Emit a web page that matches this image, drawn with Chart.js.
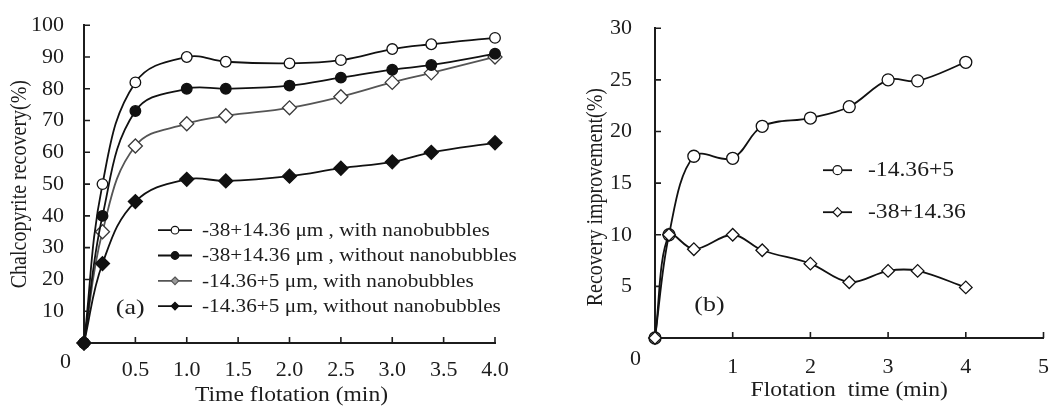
<!DOCTYPE html>
<html>
<head>
<meta charset="utf-8">
<script src="https://cdn.jsdelivr.net/npm/chart.js@4.4.1/dist/chart.umd.min.js"></script>
<style>
  html, body { margin: 0; padding: 0; background: #fff; }
  #wrap { position: relative; width: 1057px; height: 408px; }
  canvas { position: absolute; top: 0; }
  #chartA { left: 0; }
  #chartB { left: 540px; }
</style>
</head>
<body>
<div id="wrap">
  <canvas id="chartA" width="540" height="408"></canvas>
  <canvas id="chartB" width="517" height="408"></canvas>
</div>
<script>
// (a) chalcopyrite recovery against flotation time
const timesA = [0, 0.18, 0.5, 1.0, 1.38, 2.0, 2.5, 3.0, 3.38, 4.0];
const coarseWithNB = [0, 50, 82, 90, 88.5, 88, 89, 92.5, 94, 96];
const coarseWithoutNB = [0, 40, 73, 80, 80, 81, 83.5, 86, 87.5, 91];
const fineWithNB = [0, 35, 62, 69, 71.5, 74, 77.5, 82, 85, 90];
const fineWithoutNB = [0, 25, 44.5, 51.5, 51, 52.5, 55, 57, 60, 63];
const namesA = [
  '-38+14.36 \u03bcm , with nanobubbles',
  '-38+14.36 \u03bcm , without nanobubbles',
  '-14.36+5 \u03bcm, with nanobubbles',
  '-14.36+5 \u03bcm, without nanobubbles'
];

// (b) recovery improvement from nanobubbles
const timesB = [0, 0.18, 0.5, 1.0, 1.38, 2.0, 2.5, 3.0, 3.38, 4.0];
const improveFine = [0, 10, 17.6, 17.4, 20.5, 21.3, 22.4, 25, 24.9, 26.7];
const improveCoarse = [0, 10, 8.6, 10, 8.5, 7.2, 5.4, 6.5, 6.5, 4.9];
const namesB = ['-14.36+5', '-38+14.36'];

const serif = "'Liberation Serif', 'DejaVu Serif', serif";
const ink = '#1c1c1c';
const widen = 1.18; // glyphs are set a little wide

const toPoints = (xs, ys) => xs.map((x, i) => ({x: x, y: ys[i]}));

function drawMarker(ctx, style, x, y, r) {
  ctx.beginPath();
  if (style === 'rectRot') {
    ctx.moveTo(x, y - r); ctx.lineTo(x + r, y); ctx.lineTo(x, y + r); ctx.lineTo(x - r, y);
    ctx.closePath();
  } else {
    ctx.arc(x, y, r, 0, Math.PI * 2);
  }
  ctx.fill();
  ctx.stroke();
}

// fillText widened along the page's x direction, optionally rotated
function wideText(ctx, text, x, y, align, rotate) {
  ctx.save();
  ctx.translate(x, y);
  if (rotate) {
    ctx.rotate(-Math.PI / 2);
    ctx.scale(1, widen);
  } else {
    ctx.scale(widen, 1);
  }
  ctx.textAlign = align;
  ctx.textBaseline = 'middle';
  ctx.fillText(text, 0, 0);
  ctx.restore();
}

// ticks pointing into the plot, the corner "0" and the axis titles
const axisDecor = {
  id: 'axisDecor',
  afterDraw(chart, args, opts) {
    const {ctx, chartArea} = chart;
    const x = chart.scales.x, y = chart.scales.y;
    ctx.save();
    ctx.strokeStyle = ink;
    ctx.lineWidth = 1.6;
    ctx.beginPath();
    x.ticks.forEach(t => {
      if (t.value === 0) return;
      const px = x.getPixelForValue(t.value);
      ctx.moveTo(px, x.top); ctx.lineTo(px, x.top - opts.length);
    });
    y.ticks.forEach(t => {
      if (t.value === 0) return;
      const py = y.getPixelForValue(t.value);
      ctx.moveTo(y.right, py); ctx.lineTo(y.right + opts.length, py);
    });
    ctx.stroke();
    ctx.fillStyle = ink;
    ctx.font = opts.tickFont;
    ctx.textAlign = 'right';
    ctx.textBaseline = 'middle';
    ctx.fillText('0', y.right - opts.zeroDx, x.top + opts.zeroDy);

    ctx.font = opts.titleFont;
    wideText(ctx, opts.xTitle, (chartArea.left + chartArea.right) / 2 + opts.xTitleDx, opts.xTitleY, 'center', false);
    wideText(ctx, opts.yTitle, opts.yTitleX, (chartArea.top + chartArea.bottom) / 2 + opts.yTitleDy, 'center', true);
    ctx.restore();
  }
};

// legend drawn inside the plot area, and the panel tag
const inlineLegend = {
  id: 'inlineLegend',
  afterDraw(chart, args, opts) {
    const {ctx, chartArea} = chart;
    ctx.save();
    chart.data.datasets.forEach((ds, i) => {
      const ly = chartArea.top + opts.top + i * opts.rowGap;
      const lx = chartArea.left + opts.left;
      ctx.strokeStyle = ds.borderColor;
      ctx.lineWidth = ds.borderWidth;
      ctx.beginPath(); ctx.moveTo(lx, ly); ctx.lineTo(lx + opts.lineLen, ly); ctx.stroke();
      ctx.fillStyle = ds.legendFill || ds.pointBackgroundColor;
      ctx.lineWidth = 1.2;
      drawMarker(ctx, ds.pointStyle, lx + opts.lineLen / 2, ly, opts.radius);
      ctx.fillStyle = ink;
      ctx.font = opts.font;
      wideText(ctx, ds.label, lx + opts.lineLen + opts.textGap, ly + 1, 'left', false);
    });
    ctx.fillStyle = ink;
    ctx.font = opts.tagFont;
    wideText(ctx, opts.tag, chart.scales.x.getPixelForValue(opts.tagAt[0]),
             chart.scales.y.getPixelForValue(opts.tagAt[1]), 'center', false);
    ctx.restore();
  }
};

function axisOptions(min, max, step, fmt, box, tickPad) {
  return {
    type: 'linear', min: min, max: max,
    grid: { display: false },
    border: { display: true, color: ink, width: 2 },
    ticks: {
      stepSize: step, autoSkip: false, maxRotation: 0, padding: tickPad, color: ink,
      font: { family: serif, size: 22, lineHeight: 1.2 },
      callback: v => (v === 0 ? '' : fmt(v))
    },
    title: { display: false },
    afterFit: s => { if (s.isHorizontal()) s.height = box; else s.width = box; }
  };
}

const lineBase = { borderWidth: 1.8, pointBorderWidth: 1.3, tension: 0.4, clip: false };

new Chart(document.getElementById('chartA'), {
  type: 'line',
  data: {
    datasets: [
      Object.assign({}, lineBase, {
        label: namesA[0], data: toPoints(timesA, coarseWithNB), order: 1,
        borderColor: '#111', pointStyle: 'circle', pointRadius: 5.3,
        pointBackgroundColor: '#fff', pointBorderColor: '#111'
      }),
      Object.assign({}, lineBase, {
        label: namesA[1], data: toPoints(timesA, coarseWithoutNB), order: 1,
        borderColor: '#111', pointStyle: 'circle', pointRadius: 5.3,
        pointBackgroundColor: '#111', pointBorderColor: '#111'
      }),
      Object.assign({}, lineBase, {
        label: namesA[2], data: toPoints(timesA, fineWithNB), order: 1,
        borderColor: '#555', pointStyle: 'rectRot', pointRadius: 7,
        pointBackgroundColor: '#fff', pointBorderColor: '#3a3a3a', legendFill: '#999'
      }),
      Object.assign({}, lineBase, {
        label: namesA[3], data: toPoints(timesA, fineWithoutNB), order: 0,
        borderColor: '#111', pointStyle: 'rectRot', pointRadius: 7,
        pointBackgroundColor: '#111', pointBorderColor: '#111'
      })
    ]
  },
  options: {
    responsive: false,
    animation: false,
    layout: { padding: { left: 0, top: 19, right: 45, bottom: 0 } },
    plugins: {
      legend: { display: false },
      tooltip: { enabled: false },
      axisDecor: {
        length: 6, tickFont: '22px ' + serif, zeroDx: 13, zeroDy: 19,
        titleFont: '20px ' + serif,
        xTitle: 'Time flotation (min)', xTitleDx: 2, xTitleY: 396,
        yTitle: 'Chalcopyrite recovery(%)', yTitleX: 20, yTitleDy: 0
      },
      inlineLegend: {
        font: '18px ' + serif, left: 74, top: 205, rowGap: 25.3, lineLen: 34, textGap: 10,
        radius: 3.8, tag: '(a)', tagFont: '22px ' + serif, tagAt: [0.45, 10.8]
      }
    },
    scales: {
      x: axisOptions(0, 4, 0.5, v => v.toFixed(1), 65, 6),
      y: axisOptions(0, 100, 10, v => String(v), 84, 12)
    }
  },
  plugins: [axisDecor, inlineLegend]
});

new Chart(document.getElementById('chartB'), {
  type: 'line',
  data: {
    datasets: [
      Object.assign({}, lineBase, {
        label: namesB[0], data: toPoints(timesB, improveFine), order: 1, tension: 0.35,
        borderColor: '#111', pointStyle: 'circle', pointRadius: 6,
        pointBackgroundColor: '#fff', pointBorderColor: '#111'
      }),
      Object.assign({}, lineBase, {
        label: namesB[1], data: toPoints(timesB, improveCoarse), order: 0, tension: 0.35,
        borderColor: '#111', pointStyle: 'rectRot', pointRadius: 6.3,
        pointBackgroundColor: '#fff', pointBorderColor: '#111'
      })
    ]
  },
  options: {
    responsive: false,
    animation: false,
    layout: { padding: { left: 0, top: 24, right: 8, bottom: 0 } },
    plugins: {
      legend: { display: false },
      tooltip: { enabled: false },
      axisDecor: {
        length: 6, tickFont: '22px ' + serif, zeroDx: 14, zeroDy: 21,
        titleFont: '20px ' + serif,
        xTitle: 'Flotation  time (min)', xTitleDx: 0, xTitleY: 391,
        yTitle: 'Recovery improvement(%)', yTitleX: 56, yTitleDy: 14
      },
      inlineLegend: {
        font: '20px ' + serif, left: 168, top: 142, rowGap: 42, lineLen: 29, textGap: 16,
        radius: 4.5, tag: '(b)', tagFont: '22px ' + serif, tagAt: [0.7, 3.15]
      }
    },
    scales: {
      x: axisOptions(0, 5, 1, v => String(v), 70, 8),
      y: axisOptions(0, 30, 5, v => String(v), 115, 15)
    }
  },
  plugins: [axisDecor, inlineLegend]
});
</script>
</body>
</html>
